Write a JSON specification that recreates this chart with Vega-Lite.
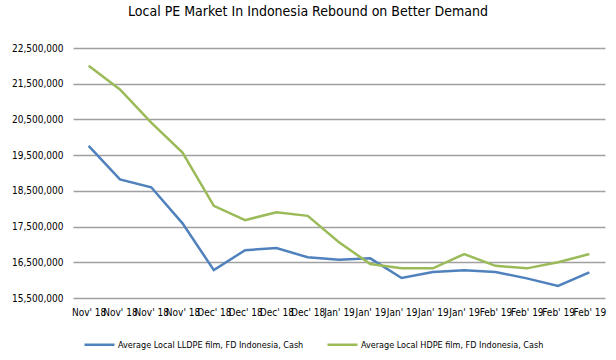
{
  "$schema": "https://vega.github.io/schema/vega-lite/v6.json",
  "autosize": "none",
  "width": 532,
  "height": 250,
  "padding": {"left": 73, "top": 48, "right": 11, "bottom": 62},
  "background": "white",
  "title": {
    "text": "Local PE Market In Indonesia Rebound on Better Demand",
    "font": "DejaVu Sans Condensed, Liberation Sans, sans-serif",
    "fontSize": 14,
    "fontWeight": "normal",
    "color": "#000000",
    "anchor": "middle",
    "frame": "group",
    "dx": -31,
    "offset": 24
  },
  "config": {
    "view": {"stroke": null},
    "axis": {"labelFont": "DejaVu Sans Condensed, Liberation Sans, sans-serif", "labelFontSize": 10, "labelColor": "#000000"},
    "legend": {"labelFont": "DejaVu Sans Condensed, Liberation Sans, sans-serif", "labelFontSize": 9, "labelColor": "#000000"}
  },
  "datasets": {
    "prices": [
      {"idx": 0, "period": "Nov' 18", "series": "Average Local LLDPE film, FD Indonesia, Cash", "price": 19760000},
      {"idx": 1, "period": "Nov' 18", "series": "Average Local LLDPE film, FD Indonesia, Cash", "price": 18820000},
      {"idx": 2, "period": "Nov' 18", "series": "Average Local LLDPE film, FD Indonesia, Cash", "price": 18600000},
      {"idx": 3, "period": "Nov' 18", "series": "Average Local LLDPE film, FD Indonesia, Cash", "price": 17590000},
      {"idx": 4, "period": "Dec' 18", "series": "Average Local LLDPE film, FD Indonesia, Cash", "price": 16280000},
      {"idx": 5, "period": "Dec' 18", "series": "Average Local LLDPE film, FD Indonesia, Cash", "price": 16840000},
      {"idx": 6, "period": "Dec' 18", "series": "Average Local LLDPE film, FD Indonesia, Cash", "price": 16900000},
      {"idx": 7, "period": "Dec' 18", "series": "Average Local LLDPE film, FD Indonesia, Cash", "price": 16640000},
      {"idx": 8, "period": "Jan' 19", "series": "Average Local LLDPE film, FD Indonesia, Cash", "price": 16570000},
      {"idx": 9, "period": "Jan' 19", "series": "Average Local LLDPE film, FD Indonesia, Cash", "price": 16610000},
      {"idx": 10, "period": "Jan' 19", "series": "Average Local LLDPE film, FD Indonesia, Cash", "price": 16060000},
      {"idx": 11, "period": "Jan' 19", "series": "Average Local LLDPE film, FD Indonesia, Cash", "price": 16230000},
      {"idx": 12, "period": "Jan' 19", "series": "Average Local LLDPE film, FD Indonesia, Cash", "price": 16280000},
      {"idx": 13, "period": "Feb' 19", "series": "Average Local LLDPE film, FD Indonesia, Cash", "price": 16230000},
      {"idx": 14, "period": "Feb' 19", "series": "Average Local LLDPE film, FD Indonesia, Cash", "price": 16050000},
      {"idx": 15, "period": "Feb' 19", "series": "Average Local LLDPE film, FD Indonesia, Cash", "price": 15840000},
      {"idx": 16, "period": "Feb' 19", "series": "Average Local LLDPE film, FD Indonesia, Cash", "price": 16220000},
      {"idx": 0, "period": "Nov' 18", "series": "Average Local HDPE film, FD Indonesia, Cash", "price": 22000000},
      {"idx": 1, "period": "Nov' 18", "series": "Average Local HDPE film, FD Indonesia, Cash", "price": 21340000},
      {"idx": 2, "period": "Nov' 18", "series": "Average Local HDPE film, FD Indonesia, Cash", "price": 20410000},
      {"idx": 3, "period": "Nov' 18", "series": "Average Local HDPE film, FD Indonesia, Cash", "price": 19570000},
      {"idx": 4, "period": "Dec' 18", "series": "Average Local HDPE film, FD Indonesia, Cash", "price": 18080000},
      {"idx": 5, "period": "Dec' 18", "series": "Average Local HDPE film, FD Indonesia, Cash", "price": 17680000},
      {"idx": 6, "period": "Dec' 18", "series": "Average Local HDPE film, FD Indonesia, Cash", "price": 17900000},
      {"idx": 7, "period": "Dec' 18", "series": "Average Local HDPE film, FD Indonesia, Cash", "price": 17800000},
      {"idx": 8, "period": "Jan' 19", "series": "Average Local HDPE film, FD Indonesia, Cash", "price": 17060000},
      {"idx": 9, "period": "Jan' 19", "series": "Average Local HDPE film, FD Indonesia, Cash", "price": 16450000},
      {"idx": 10, "period": "Jan' 19", "series": "Average Local HDPE film, FD Indonesia, Cash", "price": 16330000},
      {"idx": 11, "period": "Jan' 19", "series": "Average Local HDPE film, FD Indonesia, Cash", "price": 16330000},
      {"idx": 12, "period": "Jan' 19", "series": "Average Local HDPE film, FD Indonesia, Cash", "price": 16730000},
      {"idx": 13, "period": "Feb' 19", "series": "Average Local HDPE film, FD Indonesia, Cash", "price": 16400000},
      {"idx": 14, "period": "Feb' 19", "series": "Average Local HDPE film, FD Indonesia, Cash", "price": 16330000},
      {"idx": 15, "period": "Feb' 19", "series": "Average Local HDPE film, FD Indonesia, Cash", "price": 16500000},
      {"idx": 16, "period": "Feb' 19", "series": "Average Local HDPE film, FD Indonesia, Cash", "price": 16730000}
    ]
  },
  "data": {"name": "prices"},
  "mark": {"type": "line", "strokeWidth": 2.5, "interpolate": "linear"},
  "encoding": {
    "x": {
      "field": "idx",
      "type": "ordinal",
      "scale": {"type": "point", "padding": 0.5},
      "axis": {
        "title": null,
        "labelAngle": 0,
        "labelOverlap": false,
        "labelPadding": 9,
        "ticks": false,
        "domain": false,
        "grid": false,
        "labelExpr": "['Nov\\' 18','Nov\\' 18','Nov\\' 18','Nov\\' 18','Dec\\' 18','Dec\\' 18','Dec\\' 18','Dec\\' 18','Jan\\' 19','Jan\\' 19','Jan\\' 19','Jan\\' 19','Jan\\' 19','Feb\\' 19','Feb\\' 19','Feb\\' 19','Feb\\' 19'][datum.value]"
      }
    },
    "y": {
      "field": "price",
      "type": "quantitative",
      "scale": {"domain": [15500000, 22500000], "nice": false, "zero": false},
      "axis": {
        "title": null,
        "values": [15500000, 16500000, 17500000, 18500000, 19500000, 20500000, 21500000, 22500000],
        "format": ",d",
        "domain": false,
        "ticks": false,
        "labelPadding": 10,
        "gridColor": "#A0A0A0",
        "gridWidth": 1.5,
        "gridOpacity": 1
      }
    },
    "color": {
      "field": "series",
      "type": "nominal",
      "scale": {
        "domain": ["Average Local LLDPE film, FD Indonesia, Cash", "Average Local HDPE film, FD Indonesia, Cash"],
        "range": ["#4F81BD", "#9BBB59"]
      },
      "legend": {
        "title": null,
        "orient": "none",
        "legendX": 10,
        "legendY": 280,
        "direction": "horizontal",
        "columns": 2,
        "symbolType": "stroke",
        "symbolSize": 900,
        "symbolStrokeWidth": 2.5,
        "labelOffset": 2,
        "columnPadding": 18,
        "labelLimit": 300
      }
    }
  }
}
